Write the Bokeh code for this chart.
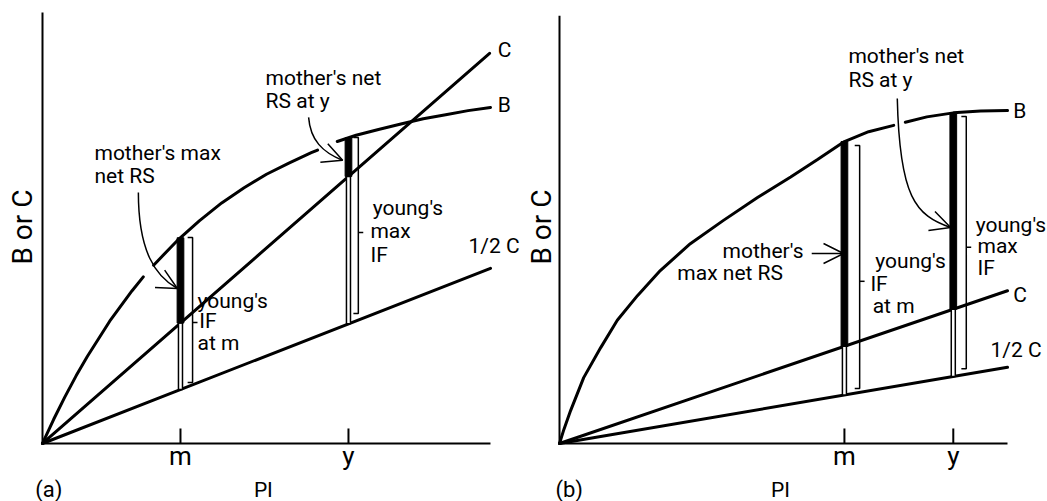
import math
import numpy as np
from bokeh.plotting import figure
from bokeh.layouts import row
from bokeh.models import Range1d, Arrow, OpenHead
from bokeh.core.properties import value
from bokeh.embed import file_html
from bokeh.resources import INLINE

nan = float("nan")
FONT = "Roboto"
PX_PER_UNIT = 44.8

# ---------------- panel (a) data ----------------
a_axis_x_end = 10.0
a_axis_y_end = 9.62
a_ticks = [3.08, 6.83]
a_tick_labels = ["m", "y"]
a_B_x = [0.0, 0.25, 0.5, 0.75, 1.0, 1.5, 2.0, 2.25, nan, 2.48, 3.0, 3.5, 4.0, 4.5,
         5.0, 5.5, 6.0, 6.14, nan, 6.58, 7.0, 7.5, 8.0, 8.5, 9.0, 9.5, 10.0]
a_B_y = [0.0, 0.54, 1.04, 1.51, 1.94, 2.73, 3.41, 3.72, nan, 3.98, 4.52, 4.97, 5.37, 5.71,
         6.01, 6.26, 6.49, 6.55, nan, 6.74, 6.88, 7.01, 7.13, 7.25, 7.34, 7.43, 7.50]
a_C_x = [0.0, 9.98]
a_C_y = [0.0, 8.71]
a_half_x = [0.0, 10.0]
a_half_y = [0.0, 3.91]
a_text = ["mother's  max", "net RS", "mother's  net", "RS at y", "young's", "max", "IF",
          "young's", "IF", "at m", "C", "B", "1/2 C"]
a_text_x = [1.16, 1.16, 4.98, 4.98, 7.37, 7.32, 7.32, 3.46, 3.50, 3.46, 10.16, 10.16, 9.51]
a_text_y = [6.32, 5.80, 7.99, 7.48, 5.09, 4.58, 4.04, 3.01, 2.57, 2.08, 8.62, 7.39, 4.24]
a_br_x = [3.35, 7.05]
a_br_top = [4.60, 6.83]
a_br_bot = [1.36, 2.90]
a_br_nub = [2.70, 4.71]
a_arrows = dict(x0=[2.14, 5.94], y0=[5.60, 7.28], cx0=[2.14, 5.98], cy0=[4.29, 6.77],
                cx1=[2.52, 6.25], cy1=[3.73, 6.50], x1=[3.01, 6.70], y1=[3.46, 6.32])
a_straight = dict(x0=[], y0=[], x1=[], y1=[])
a_xlabel_pos = (4.93, -1.21)
a_ylabel_pos = (-0.45, 4.83)
a_tag_pos = (-0.16, -1.21)
a_xrange = (-0.9375, 10.737)

# ---------------- panel (b) data ----------------
b_axis_x_end = 10.0
b_axis_y_end = 9.55
b_ticks = [6.36, 8.79]
b_tick_labels = ["m", "y"]
b_B_x = [0.0, 0.1, 0.25, 0.54, 0.92, 1.29, 1.74, 2.25, 2.92, 3.66, 4.42, 5.16, 5.76,
         6.36, 6.9, 7.46, nan, 7.72, 8.2, 8.79, 9.4, 10.0]
b_B_y = [0.0, 0.32, 0.74, 1.47, 2.14, 2.75, 3.30, 3.86, 4.46, 4.98, 5.49, 5.95, 6.34,
         6.74, 6.96, 7.10, nan, 7.17, 7.29, 7.38, 7.42, 7.43]
b_C_x = [0.0, 10.0]
b_C_y = [0.0, 3.41]
b_half_x = [0.0, 10.0]
b_half_y = [0.0, 1.70]
b_text = ["mother's net", "RS at y", "mother's", "max net RS", "young's", "IF", "at m",
          "young's", "max", "IF", "B", "C", "1/2 C"]
b_text_x = [6.45, 6.45, 3.64, 2.63, 7.05, 6.94, 6.99, 9.29, 9.33, 9.33, 10.13, 10.13, 9.62]
b_text_y = [8.48, 7.95, 4.13, 3.64, 3.91, 3.39, 2.90, 4.71, 4.24, 3.75, 7.25, 3.15, 1.92]
b_br_x = [6.70, 9.08]
b_br_top = [6.65, 7.30]
b_br_bot = [1.23, 1.67]
b_br_nub = [3.62, 4.38]
b_arrows = dict(x0=[7.54], y0=[7.70], cx0=[7.59], cy0=[5.49],
                cx1=[7.95], cy1=[5.09], x1=[8.73], y1=[4.82])
b_straight = dict(x0=[5.63], y0=[4.24], x1=[6.34], y1=[4.24])
b_xlabel_pos = (4.93, -1.21)
b_ylabel_pos = (-0.40, 4.83)
b_tag_pos = (-0.09, -1.21)
b_xrange = (-0.8036, 10.893)

Y_RANGE = (-1.295, 9.888)
TICK_LEN = 0.335
TICK_LABEL_Y = -0.49


def fix(size_px):
    # raise text so that its alphabetic baseline sits where intended
    return 0.36 * size_px / PX_PER_UNIT


def interp(xs, ys, x):
    xs = np.array(xs, dtype=float)
    ys = np.array(ys, dtype=float)
    ok = ~np.isnan(xs)
    return float(np.interp(x, xs[ok], ys[ok]))


def panel(tag, xr, x_end, y_end, ticks, tick_labels, Bx, By, Cx, Cy, Hx, Hy,
          texts, tx, ty, brx, brt, brb, brn, arrows, straight,
          xlabel_pos, ylabel_pos, tag_pos, width):
    p = figure(width=width, height=501, x_range=Range1d(*xr), y_range=Range1d(*Y_RANGE),
               output_backend="svg", toolbar_location=None,
               x_axis_location=None, y_axis_location=None,
               min_border=0, min_border_left=0, min_border_right=0,
               min_border_top=0, min_border_bottom=0)
    p.grid.visible = False
    p.outline_line_color = None

    # axis lines and ticks
    p.line([0, x_end], [0, 0], line_width=2, line_color="black")
    p.line([0, 0], [0, y_end], line_width=2, line_color="black")
    p.segment(x0=ticks, y0=[0] * len(ticks), x1=ticks, y1=[TICK_LEN] * len(ticks),
              line_width=2, line_color="black")
    p.text(x=ticks, y=[TICK_LABEL_Y + fix(26)] * len(ticks), text=tick_labels,
           text_font=value(FONT), text_font_size=value("26px"), text_color="black",
           text_align="center", text_baseline="alphabetic")
    p.text(x=[xlabel_pos[0]], y=[xlabel_pos[1] + fix(21)], text=["PI"],
           text_font=value(FONT), text_font_size=value("21px"), text_color="black",
           text_align="center", text_baseline="alphabetic")
    p.text(x=[ylabel_pos[0]], y=[ylabel_pos[1]], text=["B or C"], angle=math.pi / 2,
           text_font=value(FONT), text_font_size=value("28px"), text_color="black",
           text_align="center", text_baseline="middle")
    p.text(x=[tag_pos[0]], y=[tag_pos[1] + fix(22)], text=[tag],
           text_font=value(FONT), text_font_size=value("22px"), text_color="black",
           text_align="left", text_baseline="alphabetic")

    # curves
    p.line(Bx, By, line_width=3, line_color="black", line_cap="round")
    p.line(Cx, Cy, line_width=3, line_color="black", line_cap="round")
    p.line(Hx, Hy, line_width=3, line_color="black", line_cap="round")

    # bars at the two ticks
    tops = [interp(Bx, By, t) for t in ticks]
    mids = [interp(Cx, Cy, t) for t in ticks]
    bots = [interp(Hx, Hy, t) for t in ticks]
    p.vbar(x=ticks, width=0.09, top=mids, bottom=bots, fill_color="white",
           line_color="black", line_width=1.5)
    p.vbar(x=ticks, width=0.15, top=tops, bottom=mids, fill_color="black",
           line_color="black", line_width=1)

    # brackets
    xs, ys = [], []
    for x, t, b, n in zip(brx, brt, brb, brn):
        xs.append([x - 0.11, x, x, x - 0.11])
        ys.append([t, t, b, b])
        xs.append([x, x + 0.11])
        ys.append([n, n])
    p.multi_line(xs, ys, line_width=1.5, line_color="black")

    # curved arrows
    if arrows["x0"]:
        p.bezier(x0=arrows["x0"], y0=arrows["y0"], x1=arrows["x1"], y1=arrows["y1"],
                 cx0=arrows["cx0"], cy0=arrows["cy0"], cx1=arrows["cx1"], cy1=arrows["cy1"],
                 line_width=1.5, line_color="black")
        for i in range(len(arrows["x0"])):
            p.add_layout(Arrow(end=OpenHead(size=20, line_width=1.5, line_color="black"),
                               x_start=arrows["cx1"][i], y_start=arrows["cy1"][i],
                               x_end=arrows["x1"][i], y_end=arrows["y1"][i],
                               line_alpha=0))
    for i in range(len(straight["x0"])):
        p.add_layout(Arrow(end=OpenHead(size=20, line_width=1.5, line_color="black"),
                           x_start=straight["x0"][i], y_start=straight["y0"][i],
                           x_end=straight["x1"][i], y_end=straight["y1"][i],
                           line_width=1.5, line_color="black"))

    p.text(x=tx, y=[v + fix(21) for v in ty], text=texts, text_font=value(FONT),
           text_font_size=value("21px"), text_color="black", text_align="left",
           text_baseline="alphabetic")
    return p


pa = panel("(a)", a_xrange, a_axis_x_end, a_axis_y_end, a_ticks, a_tick_labels,
           a_B_x, a_B_y, a_C_x, a_C_y, a_half_x, a_half_y,
           a_text, a_text_x, a_text_y, a_br_x, a_br_top, a_br_bot, a_br_nub,
           a_arrows, a_straight, a_xlabel_pos, a_ylabel_pos, a_tag_pos, width=523)
pb = panel("(b)", b_xrange, b_axis_x_end, b_axis_y_end, b_ticks, b_tick_labels,
           b_B_x, b_B_y, b_C_x, b_C_y, b_half_x, b_half_y,
           b_text, b_text_x, b_text_y, b_br_x, b_br_top, b_br_bot, b_br_nub,
           b_arrows, b_straight, b_xlabel_pos, b_ylabel_pos, b_tag_pos, width=524)

layout = row(pa, pb)
open("out.html", "w").write(file_html(layout, INLINE))
